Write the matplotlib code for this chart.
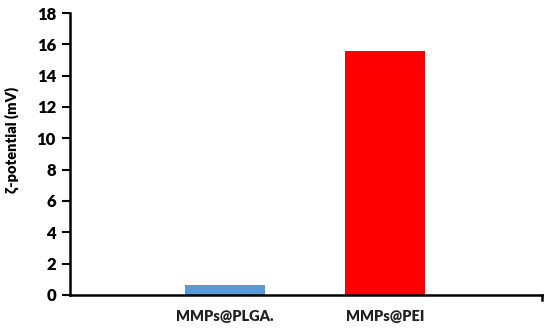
import numpy as np
import matplotlib
matplotlib.use("Agg")
import matplotlib.pyplot as plt

plt.rcParams["font.family"] = ["Lato", "DejaVu Sans"]
plt.rcParams["font.weight"] = "bold"

# data
samples = ["MMPs@PLGA.", "MMPs@PEI"]
zeta = [0.65, 15.6]
colors = ["#5B9BD5", "#FF0000"]

fig = plt.figure(figsize=(5.5, 3.34), dpi=100)
ax = fig.add_axes([0.127, 0.117, 0.858, 0.844])

x = np.arange(len(samples))
ax.bar(x, zeta, width=0.5, color=colors)

ax.set_xlim(-0.97, 1.98)
ax.set_ylim(0, 18)
ax.set_yticks(np.arange(0, 19, 2))
ax.set_xticks(x)
ax.set_xticklabels(samples, fontsize=10.5, fontweight="heavy", color="#222222")
ax.tick_params(axis="x", length=0, pad=11)
ax.tick_params(axis="y", direction="out", length=6, width=1.5, labelsize=12, pad=4)
for lbl in ax.get_yticklabels():
    lbl.set_fontweight("heavy")

ax.set_ylabel("ζ-potential (mV)", fontsize=10.5, fontweight="heavy")
ax.yaxis.set_label_coords(-0.108, 0.55)

for s in ["top", "right"]:
    ax.spines[s].set_visible(False)
for s in ["left", "bottom"]:
    ax.spines[s].set_linewidth(1.8)

# little end tick at the right of the x axis
ax.plot([1.98, 1.98], [0, -0.35], color="black", lw=1.8, clip_on=False)

fig.savefig("out.png", dpi=100)
